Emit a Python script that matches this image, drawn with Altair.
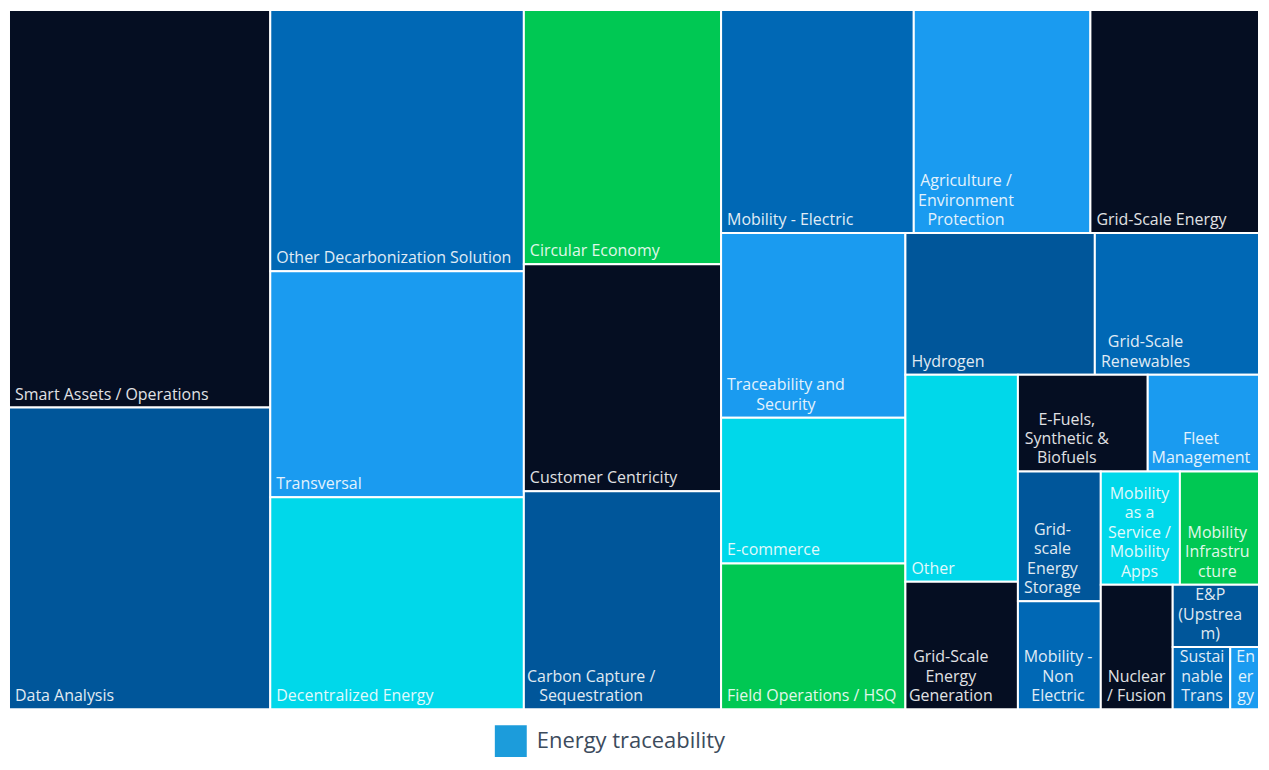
import altair as alt
import pandas as pd

# ---------------- data ----------------
categories = [
    "Smart Assets / Operations", "Data Analysis", "Other Decarbonization Solution",
    "Transversal", "Decentralized Energy", "Circular Economy", "Customer Centricity",
    "Carbon Capture / Sequestration", "Mobility - Electric",
    "Agriculture / Environment Protection", "Grid-Scale Energy",
    "Traceability and Security", "E-commerce", "Field Operations / HSQ", "Hydrogen",
    "Grid-Scale Renewables", "Other", "Grid-Scale Energy Generation",
    "E-Fuels, Synthetic & Biofuels", "Fleet Management", "Grid-scale Energy Storage",
    "Mobility - Non Electric", "Mobility as a Service / Mobility Apps",
    "Mobility Infrastructure", "Nuclear / Fusion", "E&P (Upstream)",
    "Sustainable Transport", "Energy",
]
values = [58, 44, 37, 32, 30, 28, 25, 24, 24, 22, 21, 19, 15, 15, 15, 13, 13, 8, 7,
          6, 6, 5, 5, 5, 5, 3, 2, 1]
# label text as it is wrapped in the picture
label_lines = [
    ["Smart Assets / Operations"], ["Data Analysis"], ["Other Decarbonization Solution"],
    ["Transversal"], ["Decentralized Energy"], ["Circular Economy"], ["Customer Centricity"],
    ["Carbon Capture /", "Sequestration"], ["Mobility - Electric"],
    ["Agriculture /", "Environment", "Protection"], ["Grid-Scale Energy"],
    ["Traceability and", "Security"], ["E-commerce"], ["Field Operations / HSQ"], ["Hydrogen"],
    ["Grid-Scale", "Renewables"], ["Other"], ["Grid-Scale", "Energy", "Generation"],
    ["E-Fuels,", "Synthetic &", "Biofuels"], ["Fleet", "Management"],
    ["Grid-", "scale", "Energy", "Storage"], ["Mobility -", "Non", "Electric"],
    ["Mobility", "as a", "Service /", "Mobility", "Apps"],
    ["Mobility", "Infrastru", "cture"], ["Nuclear", "/ Fusion"],
    ["E&P", "(Upstrea", "m)"], ["Sustai", "nable", "Trans"], ["En", "er", "gy"],
]
series_name = "Energy traceability"

# ---------------- styles ----------------
NAVY, DARK, BLUE, BRIGHT, CYAN, GREEN = ("#050E22", "#00569A", "#0068B5",
                                         "#1A9BF0", "#00D8EA", "#00C853")
color_of = {
    "Smart Assets / Operations": NAVY, "Data Analysis": DARK,
    "Other Decarbonization Solution": BLUE, "Transversal": BRIGHT,
    "Decentralized Energy": CYAN, "Circular Economy": GREEN,
    "Customer Centricity": NAVY, "Carbon Capture / Sequestration": DARK,
    "Mobility - Electric": BLUE, "Agriculture / Environment Protection": BRIGHT,
    "Grid-Scale Energy": NAVY, "Traceability and Security": BRIGHT,
    "E-commerce": CYAN, "Field Operations / HSQ": GREEN, "Hydrogen": DARK,
    "Grid-Scale Renewables": BLUE, "Other": CYAN,
    "Grid-Scale Energy Generation": NAVY, "E-Fuels, Synthetic & Biofuels": NAVY,
    "Fleet Management": BRIGHT, "Grid-scale Energy Storage": DARK,
    "Mobility - Non Electric": BLUE, "Mobility as a Service / Mobility Apps": CYAN,
    "Mobility Infrastructure": GREEN, "Nuclear / Fusion": NAVY,
    "E&P (Upstream)": DARK, "Sustainable Transport": BLUE, "Energy": BRIGHT,
}
W, H = 1253, 701
FONT = "Open Sans"
FS = 16
LH = 19.5
PAD = 6


# ---------------- squarified treemap layout ----------------
def squarify(vals, x0, y0, x1, y1, ratio=0.95):
    out = [None] * len(vals)
    total = float(sum(vals))
    n = len(vals)
    i0 = 0
    while i0 < n:
        dx, dy = x1 - x0, y1 - y0
        i1 = i0
        s = float(vals[i1]); i1 += 1
        vmin = vmax = s
        alpha = max(dy / dx, dx / dy) / (total * ratio)
        beta = s * s * alpha
        best = max(vmax / beta, beta / vmin)
        while i1 < n:
            v = vals[i1]
            s2 = s + v
            mn, mx = min(vmin, v), max(vmax, v)
            beta = s2 * s2 * alpha
            r = max(mx / beta, beta / mn)
            if r > best:
                break
            s, vmin, vmax, best = s2, mn, mx, r
            i1 += 1
        if dx < dy:
            hr = dy * s / total
            xx = x0
            for k in range(i0, i1):
                wk = dx * vals[k] / s
                out[k] = (xx, y0, xx + wk, y0 + hr)
                xx += wk
            y0 += hr
        else:
            wc = dx * s / total
            yy = y0
            for k in range(i0, i1):
                hk = dy * vals[k] / s
                out[k] = (x0, yy, x0 + wc, yy + hk)
                yy += hk
            x0 += wc
        total -= s
        i0 = i1
    return out


def text_width(t, size=FS):
    w = 0.0
    for ch in t:
        if ch in "ilj.,'|I":
            w += 0.26
        elif ch in " ":
            w += 0.26
        elif ch in "frt-/()":
            w += 0.37
        elif ch in "mwMW":
            w += 0.85
        elif ch == "&":
            w += 0.73
        elif ch.isupper():
            w += 0.64
        else:
            w += 0.55
    return w * size


df = pd.DataFrame({"category": categories, "value": values, "lines": label_lines})
df["key"] = df["category"].str.lower()
df = df.sort_values(["value", "key"], ascending=[False, True], kind="stable").reset_index(drop=True)
rects = squarify(list(df["value"]), 0, 0, W, H)
df["x0"] = [r[0] for r in rects]
df["y0"] = [r[1] for r in rects]
df["x1"] = [r[2] for r in rects]
df["y1"] = [r[3] for r in rects]
df["nlines"] = df["lines"].apply(len)
df["single"] = df["lines"].apply(lambda l: l[0])
df["series"] = series_name
blockw = []
for _, r in df.iterrows():
    bw = max(text_width(t) for t in r["lines"])
    bw = min(bw, r["x1"] - r["x0"] - 2 * PAD + 2)
    blockw.append(bw)
df["tx"] = df["x0"] + PAD + pd.Series(blockw) / 2
df["txl"] = df["x0"] + PAD
df["ty"] = df["y1"] - (df["nlines"] - 1) * LH

xs = alt.Scale(domain=[0, W], nice=False, zero=False)
ys = alt.Scale(domain=[0, H], nice=False, zero=False, reverse=True)

base = alt.Chart(df)

cells = base.mark_rect(stroke="white", strokeWidth=2).encode(
    x=alt.X("x0:Q", scale=xs, axis=None),
    x2="x1:Q",
    y=alt.Y("y0:Q", scale=ys, axis=None),
    y2="y1:Q",
    fill=alt.Fill("category:N", legend=None,
                  scale=alt.Scale(domain=list(color_of.keys()),
                                  range=list(color_of.values()))),
    tooltip=["category:N", "value:Q"],
)

single = base.transform_filter("datum.nlines == 1").mark_text(
    align="left", baseline="bottom", dy=-5, font=FONT, fontSize=FS,
    color="white", opacity=0.88,
).encode(
    x=alt.X("txl:Q", scale=xs, axis=None),
    y=alt.Y("y1:Q", scale=ys, axis=None),
    text="single:N",
)

multi = base.transform_filter("datum.nlines > 1").mark_text(
    align="center", baseline="bottom", dy=-5, font=FONT, fontSize=FS,
    lineHeight=LH, color="white", opacity=0.88,
).encode(
    x=alt.X("tx:Q", scale=xs, axis=None),
    y=alt.Y("ty:Q", scale=ys, axis=None),
    text="lines",
)

legend_layer = base.mark_rect().encode(
    x=alt.X("x0:Q", scale=xs, axis=None),
    x2="x0:Q",
    y=alt.Y("y0:Q", scale=ys, axis=None),
    y2="y0:Q",
    color=alt.Color("series:N", title=None,
                    scale=alt.Scale(domain=[series_name], range=["#1C9CDB"]),
                    legend=alt.Legend(orient="none", legendX=487, legendY=717,
                                      symbolType="square", symbolSize=1024,
                                      symbolStrokeWidth=0, labelFont=FONT,
                                      labelFontSize=22, labelColor="#3C4B5C",
                                      labelOffset=10, labelLimit=0, padding=0)),
)

chart = alt.layer(cells, legend_layer, single, multi).properties(
    width=W, height=H, padding={"left": 0, "top": 0, "right": 0, "bottom": 0}
).configure_view(stroke=None)

chart.save("out.html", embed_options={"renderer": "svg", "actions": False})
